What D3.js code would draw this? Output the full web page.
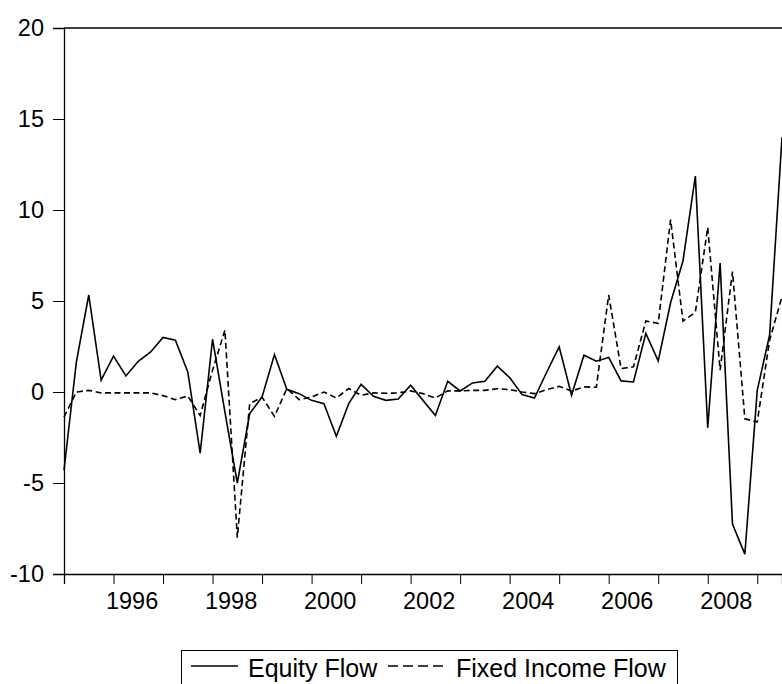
<!DOCTYPE html>
<html>
<head>
<meta charset="utf-8">
<script src="https://cdn.jsdelivr.net/npm/d3@7"></script>
<style>
	body { margin: 0; background: #fff; }
	svg text { font-family: Arial, "Liberation Sans", sans-serif; fill: #000; }
</style>
</head>
<body>
<svg id="chart" width="782" height="684"></svg>
<script>
// 数据：1995Q1 - 2009Q3 季度
var g_startYear = 1995;
var equityFlow = [
	-4.3, 1.65, 5.33, 0.65, 1.97, 0.88, 1.69, 2.2, 3.0, 2.85,
	1.1, -3.36, 2.9, -1.1, -5.0, -1.19, -0.27, 2.06, 0.15, -0.09,
	-0.46, -0.64, -2.43, -0.64, 0.42, -0.24, -0.46, -0.39, 0.37, -0.46,
	-1.29, 0.59, 0.06, 0.5, 0.59, 1.42, 0.79, -0.14, -0.33, 1.1,
	2.48, -0.18, 2.02, 1.69, 1.9, 0.61, 0.55, 3.22, 1.71, 4.9,
	7.2, 11.86, -1.96, 7.08, -7.26, -8.91, 0.09, 3.13, 14.0
];
var fixedIncomeFlow = [
	-1.38, 0.0, 0.09, -0.05, -0.05, -0.05, -0.05, -0.05, -0.2, -0.42,
	-0.22, -1.29, 1.2, 3.4, -8.0, -0.64, -0.28, -1.34, 0.19, -0.42,
	-0.27, 0.0, -0.33, 0.19, -0.18, -0.05, -0.07, -0.05, 0.06, -0.09,
	-0.33, 0.06, 0.06, 0.09, 0.09, 0.18, 0.13, 0.0, -0.09, 0.13,
	0.31, 0.05, 0.28, 0.26, 5.33, 1.29, 1.38, 3.9, 3.77, 9.47,
	3.9, 4.38, 9.05, 1.2, 6.62, -1.47, -1.65, 2.85, 5.24
];
var yTicks = [-10, -5, 0, 5, 10, 15, 20];
var tickYears = [1995, 1996, 1997, 1998, 1999, 2000, 2001, 2002, 2003, 2004, 2005, 2006, 2007, 2008, 2009];
var labelYears = [1996, 1998, 2000, 2002, 2004, 2006, 2008];
var seriesNames = ["Equity Flow", "Fixed Income Flow"];

var plotLeft = 64, plotRight = 782, plotTop = 28, plotBottom = 574;

var svg = d3.select("#chart");

// 季度下标 -> 年份时间
function gb_quarterTime(i) {
	return g_startYear + i / 4;
}

var x = d3.scaleLinear()
	.domain([gb_quarterTime(0), gb_quarterTime(equityFlow.length - 1)])
	.range([plotLeft, plotRight]);
var y = d3.scaleLinear()
	.domain([-10, 20])
	.range([plotBottom, plotTop]);

// 上边框
svg.append("line")
	.attr("x1", plotLeft).attr("x2", plotRight)
	.attr("y1", plotTop).attr("y2", plotTop)
	.attr("stroke", "black").attr("stroke-width", 1.3);

// y轴（负号用普通连字符）
var yAxis = svg.append("g")
	.attr("transform", "translate(" + plotLeft + ",0)")
	.call(d3.axisLeft(y).tickValues(yTicks).tickSize(11).tickPadding(9)
		.tickFormat(function (d) { return String(d); }));
yAxis.select(".domain").attr("stroke-width", 1.3);
yAxis.selectAll("text").style("font-size", "23.5px");

// x轴：每年一个刻度，隔年标注
var xAxis = svg.append("g")
	.attr("transform", "translate(0," + plotBottom + ")")
	.call(d3.axisBottom(x).tickValues(tickYears).tickSize(10).tickFormat(""));
xAxis.select(".domain").attr("stroke-width", 1.3);

svg.append("g").selectAll("text")
	.data(labelYears)
	.enter()
	.append("text")
	.attr("x", function (d) { return x(d + 0.375); })
	.attr("y", 609)
	.attr("text-anchor", "middle")
	.style("font-size", "23.5px")
	.text(function (d) { return String(d); });

// 折线
var line = d3.line()
	.x(function (d, i) { return x(gb_quarterTime(i)); })
	.y(function (d) { return y(d); });

svg.append("path")
	.datum(fixedIncomeFlow)
	.attr("d", line)
	.attr("fill", "none")
	.attr("stroke", "black")
	.attr("stroke-width", 1.6)
	.attr("stroke-dasharray", "6,3.5");

svg.append("path")
	.datum(equityFlow)
	.attr("d", line)
	.attr("fill", "none")
	.attr("stroke", "black")
	.attr("stroke-width", 1.6);

// 图例
var legend = svg.append("g");
legend.append("rect")
	.attr("x", 181.5).attr("y", 650.5)
	.attr("width", 496).attr("height", 45)
	.attr("fill", "none").attr("stroke", "black").attr("stroke-width", 1);
legend.append("line")
	.attr("x1", 191).attr("x2", 238).attr("y1", 666).attr("y2", 666)
	.attr("stroke", "black").attr("stroke-width", 1.3);
legend.append("text")
	.attr("x", 248).attr("y", 676.5)
	.style("font-size", "25px")
	.text(seriesNames[0]);
legend.append("line")
	.attr("x1", 388).attr("x2", 447).attr("y1", 666).attr("y2", 666)
	.attr("stroke", "black").attr("stroke-width", 1.3)
	.attr("stroke-dasharray", "10,5");
legend.append("text")
	.attr("x", 456).attr("y", 676.5)
	.style("font-size", "25px")
	.text(seriesNames[1]);
</script>
</body>
</html>
